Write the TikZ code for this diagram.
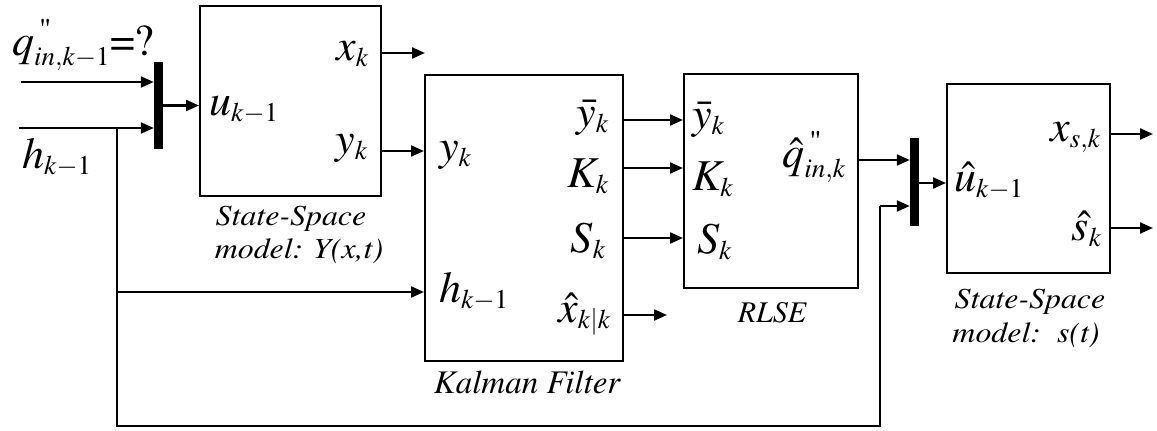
\documentclass[tikz,border=0pt]{standalone}
\usepackage[T1]{fontenc}
\usepackage{mathptmx}
\usepackage{amsmath}
\usetikzlibrary{arrows.meta,calc}
\DeclareMathSizes{44}{44}{27}{20}
\newcommand{\dq}{\text{\fontsize{30}{30}\selectfont\upshape\,\textquotedbl}}
\newcommand{\wide}[1]{\scalebox{1.1}[1]{#1}}
\tikzset{
  blk/.style={draw,line width=2pt,inner sep=0pt,fill=white},
  bar/.style={fill=black,draw=none,inner sep=0pt,minimum width=9pt},
  arr/.style={line width=2.2pt,-{Triangle[length=13pt,width=11pt]}},
  ln/.style={line width=2.2pt},
  lab/.style={inner sep=0pt,font=\fontsize{44}{50}\selectfont},
  captxt/.style={inner sep=0pt,anchor=base,font=\fontsize{29}{34}\selectfont\itshape},
  capbig/.style={inner sep=0pt,anchor=base,font=\fontsize{33}{38}\selectfont\itshape},
}
\begin{document}
\begin{tikzpicture}[x=1pt,y=-1pt]
\useasboundingbox[fill=white] (0,0) rectangle (1157,431);
% blocks
\node[blk,minimum width=181pt,minimum height=190pt] (b1) at (290.5,101) {};
\node[blk,minimum width=198pt,minimum height=286pt] (kf) at (524,218) {};
\node[blk,minimum width=174pt,minimum height=214pt] (rl) at (771,181) {};
\node[blk,minimum width=163pt,minimum height=189pt] (b4) at (1028.5,178.5) {};
\node[bar,minimum height=87pt] (bar1) at (158.5,105.5) {};
\node[bar,minimum height=88pt] (bar2) at (914.5,182) {};
% outer labels
\node[lab,anchor=base west] (lq) at (12,55) {$q^{\dq}_{in,k-1}\text{=?}$};
\node[lab,anchor=base west] (lh) at (22,168) {$h_{k-1}$};
% block 1 labels
\node[lab,anchor=base west] (lu) at (209,115) {$u_{k-1}$};
\node[lab,anchor=base east] (lx) at (369,60) {$x_k$};
\node[lab,anchor=base east] (ly) at (368,153) {$y_k$};
% Kalman labels
\node[lab,anchor=base west] (kyin) at (439,160) {$y_k$};
\node[lab,anchor=base west] (khin) at (439,302) {$h_{k-1}$};
\node[lab,anchor=base east] (kyb) at (609,126) {$\bar{y}_k$};
\node[lab,anchor=base east] (kK) at (609,187) {$K_k$};
\node[lab,anchor=base east] (kS) at (606,252) {$S_k$};
\node[lab,anchor=base east] (kx) at (611,322) {$\hat{x}_{k|k}$};
% RLSE labels
\node[lab,anchor=base west] (ryb) at (692,128) {$\bar{y}_k$};
\node[lab,anchor=base west] (rK) at (692,190) {$K_k$};
\node[lab,anchor=base west] (rS) at (697,253) {$S_k$};
\node[lab,anchor=base east] (rq) at (846,167) {$\hat{q}^{\dq}_{in,k}$};
% block 4 labels
\node[lab,anchor=base west] (su) at (954,191) {$\hat{u}_{k-1}$};
\node[lab,anchor=base east] (sx) at (1101,141) {$x_{s,k}$};
\node[lab,anchor=base east] (ss) at (1102,240) {$\hat{s}_k$};
% captions
\node[captxt] (c1a) at (291,225) {\wide{State-Space}};
\node[captxt] (c1b) at (299,258) {\wide{model: Y(x,t)}};
\node[capbig] (c2) at (527,393) {Kalman Filter};
\node[captxt,font=\fontsize{30}{34}\selectfont\itshape] (c3) at (772,322) {RLSE};
\node[captxt] (c4a) at (1030,308) {\wide{State-Space}};
\node[captxt] (c4b) at (1026,342) {\wide{model:\ \ s(t)}};
% coordinates
\coordinate (qs) at (21,82);
\coordinate (hs) at (19,128);
\coordinate (br) at (117,128);
\coordinate (bl) at (117,426);
\coordinate (brr) at (880,426);
\coordinate (fb) at (880,206);
\coordinate (xe) at (425,53);
\coordinate (kxe) at (667,315);
\coordinate (sxe) at (1153,134);
\coordinate (sse) at (1153,228);
% connectors
\draw[arr] (qs) -- (qs -| bar1.west);
\draw[arr] (hs) -- (hs -| bar1.west);
\draw[arr] (bar1.east) -- (bar1.east -| b1.west);
\draw[arr] (xe -| b1.east) -- (xe);
\draw[arr] (b1.east |- 0,151) -- (kf.west |- 0,151);
\draw[arr] (br |- 0,292) -- (kf.west |- 0,292);
\draw[ln] (br) -- (bl) -- (brr) -- (fb);
\draw[arr] (fb) -- (fb -| bar2.west);
\draw[arr] (kf.east |- 0,120) -- (rl.west |- 0,120);
\draw[arr] (kf.east |- 0,168) -- (rl.west |- 0,168);
\draw[arr] (kf.east |- 0,238) -- (rl.west |- 0,238);
\draw[arr] (kxe -| kf.east) -- (kxe);
\draw[arr] (rl.east |- 0,160) -- (bar2.west |- 0,160);
\draw[arr] (bar2.east |- 0,183) -- (b4.west |- 0,183);
\draw[arr] (sxe -| b4.east) -- (sxe);
\draw[arr] (sse -| b4.east) -- (sse);
\end{tikzpicture}
\end{document}
